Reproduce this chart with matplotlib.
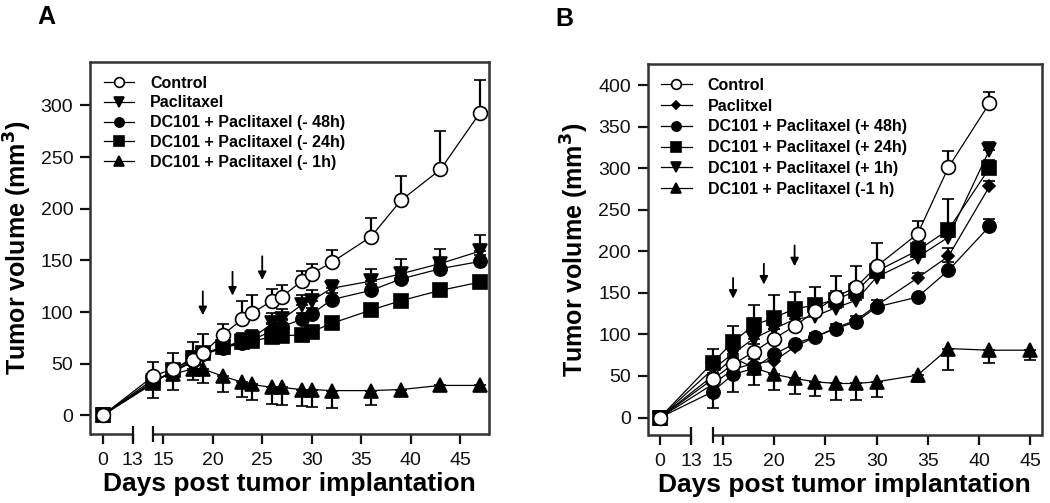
import matplotlib
matplotlib.use("Agg")
import matplotlib.pyplot as plt
import numpy as np

plt.rcParams['font.family'] = ['Liberation Sans', 'DejaVu Sans']

# ---- data: panel A ----
days_a = [0, 14, 16, 18, 19, 21, 23, 24, 26, 27, 29, 30, 32, 36, 39, 43, 47]
ctrl_a = [0, 38, 45, 54, 60, 78, 93, 99, 111, 115, 130, 137, 148, 173, 208, 238, 293]
ctrl_a_up = [0, 14, 15, 17, 19, 10, 18, 18, 11, 11, 10, 10, 12, 18, 24, 37, 32]
pacl_a = [0, 33, 42, 52, 58, 66, 72, 75, 89, 93, 107, 111, 123, 130, 137, 147, 159]
pacl_a_up = [0, 8, 8, 8, 8, 6, 8, 8, 10, 10, 10, 10, 8, 12, 14, 14, 16]
dc48_a = [0, 32, 43, 53, 59, 65, 70, 73, 82, 86, 93, 98, 112, 121, 132, 142, 149]
dc48_a_up = [0, 5, 5, 5, 5, 5, 5, 5, 6, 6, 6, 6, 6, 6, 6, 6, 6]
dc24_a = [0, 31, 44, 56, 60, 66, 71, 72, 76, 77, 78, 81, 89, 102, 111, 121, 129]
dc24_a_up = [0, 5, 5, 6, 6, 5, 5, 6, 5, 5, 4, 4, 4, 4, 4, 4, 4]
dc1_a = [0, 35, 40, 45, 45, 38, 32, 30, 27, 27, 25, 25, 24, 24, 25, 29, 29]
dc1_a_low = [0, 18, 15, 11, 14, 15, 14, 15, 16, 17, 16, 17, 17, 14, 6, 5, 5]
labels_a = ["Control", "Paclitaxel", "DC101 + Paclitaxel (- 48h)",
            "DC101 + Paclitaxel (- 24h)", "DC101 + Paclitaxel (- 1h)"]
arrows_a = [19, 22, 25]
arrow_tip_a = [97, 116, 131]

# ---- data: panel B ----
days_b = [0, 14, 16, 18, 20, 22, 24, 26, 28, 30, 34, 37, 41]
days_b_m1 = [0, 14, 16, 18, 20, 22, 24, 26, 28, 30, 34, 37, 41, 45]
ctrl_b = [0, 46, 64, 79, 95, 110, 128, 145, 157, 182, 221, 301, 378]
ctrl_b_up = [0, 8, 10, 10, 12, 14, 12, 25, 25, 28, 16, 20, 14]
pacl_b = [0, 40, 58, 65, 68, 85, 97, 108, 117, 135, 168, 194, 278]
pacl_b_up = [0, 5, 5, 5, 5, 5, 5, 5, 5, 6, 6, 10, 6]
dc48_b = [0, 31, 52, 59, 76, 89, 97, 107, 115, 133, 145, 177, 230]
dc48_b_low = [0, 20, 21, 0, 0, 0, 0, 0, 0, 0, 0, 0, 0]
dc48_b_up = [0, 0, 0, 0, 0, 0, 0, 0, 0, 0, 0, 10, 9]
dc24_b = [0, 66, 91, 111, 120, 131, 135, 142, 152, 176, 201, 226, 300]
dc24_b_up = [0, 17, 19, 24, 27, 20, 22, 10, 10, 10, 10, 37, 10]
dc1p_b = [0, 58, 77, 95, 107, 118, 122, 132, 141, 169, 193, 217, 322]
dc1p_b_up = [0, 6, 6, 6, 6, 6, 6, 6, 6, 8, 8, 10, 9]
dcm1_b = [0, 50, 72, 60, 52, 47, 43, 41, 41, 43, 51, 83, 81, 81]
dcm1_b_low = [0, 10, 10, 21, 19, 19, 17, 20, 20, 18, 8, 26, 15, 12]
labels_b = ["Control", "Paclitxel", "DC101 + Paclitaxel (+ 48h)",
            "DC101 + Paclitaxel (+ 24h)", "DC101 + Paclitaxel (+ 1h)",
            "DC101 + Paclitaxel (-1 h)"]
arrows_b = [16, 19, 22]
arrow_tip_b = [143, 160, 182]

xticks = [0, 13, 15, 20, 25, 30, 35, 40, 45]

# broken x axis: 0-13 compressed, gap between 13 and 14
S1 = 0.235
GAP = 2.07


def fwd(x):
    x = np.asarray(x, dtype=float)
    return np.where(x <= 13, x * S1,
                    np.where(x <= 14, 13 * S1 + (x - 13) * GAP, x - 14 + 13 * S1 + GAP))


def inv(p):
    p = np.asarray(p, dtype=float)
    p13 = 13 * S1
    p14 = p13 + GAP
    return np.where(p <= p13, p / S1,
                    np.where(p <= p14, 13 + (p - p13) / GAP, p - p14 + 14))


K = '#111111'
LW = 1.8


def series(ax, x, y, low, up, marker, ms, mfc, z):
    c = ax.errorbar(x, y, yerr=[low, up], marker=marker, ms=ms, mfc=mfc, mec='black',
                    mew=1.2, color='black', lw=0.9, ecolor='black', elinewidth=1.6,
                    capsize=4, capthick=1.6, zorder=z)
    return c[0]


def style(ax, xlim, ylim, yticks, ylab_pad):
    ax.set_xscale('function', functions=(fwd, inv))
    ax.set_xlim(*xlim)
    ax.set_ylim(*ylim)
    ax.set_xticks(xticks)
    ax.set_xticklabels([str(t) for t in xticks])
    ax.set_yticks(yticks)
    ax.minorticks_off()
    ax.tick_params(direction='out', length=7, width=1.6, labelsize=14, colors=K, pad=5)
    ax.tick_params(axis='x', pad=6)
    for s in ['left', 'top', 'right']:
        ax.spines[s].set_linewidth(LW)
        ax.spines[s].set_color('#333333')
    ax.spines['bottom'].set_visible(False)
    tr = ax.get_xaxis_transform()
    ax.plot([xlim[0], 13], [0, 0], transform=tr, clip_on=False, color='#333333', lw=LW,
            solid_capstyle='butt')
    ax.plot([14, xlim[1]], [0, 0], transform=tr, clip_on=False, color='#333333', lw=LW,
            solid_capstyle='butt')
    ax.plot([13, 14], [0, 0], transform=tr, clip_on=False, ls='none', marker='|',
            ms=12, mew=1.6, color=K)
    ax.set_xlabel('Days post tumor implantation', fontsize=19, fontweight='bold', labelpad=2)
    ax.set_ylabel('Tumor volume (mm$^\\mathbf{3}$)', fontsize=18, fontweight='bold',
                  labelpad=ylab_pad)


fig = plt.figure(figsize=(10.5, 5.03), dpi=100)
axA = fig.add_axes([0.0857, 0.1372, 0.38, 0.7395])
axB = fig.add_axes([0.6169, 0.1352, 0.3752, 0.737])

# panel A
hA = []
hA.append(series(axA, days_a, ctrl_a, [0] * len(days_a), ctrl_a_up, 'o', 10, 'white', 10))
hA.append(series(axA, days_a, pacl_a, [0] * len(days_a), pacl_a_up, 'v', 9.5, 'black', 6))
hA.append(series(axA, days_a, dc48_a, [0] * len(days_a), dc48_a_up, 'o', 9.5, 'black', 7))
hA.append(series(axA, days_a, dc24_a, [0] * len(days_a), dc24_a_up, 's', 9.5, 'black', 5))
hA.append(series(axA, days_a, dc1_a, dc1_a_low, [0] * len(days_a), '^', 9.5, 'black', 4))
style(axA, (-5.4, 47.9), (-18, 342), range(0, 301, 50), 5)
for d, t in zip(arrows_a, arrow_tip_a):
    axA.annotate('', xy=(d, t), xytext=(d, t + 23),
                 arrowprops=dict(arrowstyle='-|>', color='black', lw=1.3,
                                 mutation_scale=12, shrinkA=0, shrinkB=0))
axA.legend(hA, labels_a, loc='upper left', frameon=False,
           prop={'size': 11.5, 'weight': 'bold'}, handlelength=1.9, handletextpad=1.0,
           labelspacing=0.3, borderaxespad=0.45, markerscale=0.7)

# panel B
hB = []
hB.append(series(axB, days_b, ctrl_b, [0] * len(days_b), ctrl_b_up, 'o', 10, 'white', 10))
hB.append(series(axB, days_b, pacl_b, [0] * len(days_b), pacl_b_up, 'D', 6.5, 'black', 6))
hB.append(series(axB, days_b, dc48_b, dc48_b_low, dc48_b_up, 'o', 9.5, 'black', 7))
hB.append(series(axB, days_b, dc24_b, [0] * len(days_b), dc24_b_up, 's', 9.5, 'black', 8))
hB.append(series(axB, days_b, dc1p_b, [0] * len(days_b), dc1p_b_up, 'v', 9.5, 'black', 5))
hB.append(series(axB, days_b_m1, dcm1_b, dcm1_b_low, [0] * len(days_b_m1), '^', 9.5, 'black', 4))
style(axB, (-5.1, 46.1), (-21, 425), range(0, 401, 50), 5)
for d, t in zip(arrows_b, arrow_tip_b):
    axB.annotate('', xy=(d, t), xytext=(d, t + 25),
                 arrowprops=dict(arrowstyle='-|>', color='black', lw=1.3,
                                 mutation_scale=12, shrinkA=0, shrinkB=0))
axB.legend(hB, labels_b, loc='upper left', frameon=False,
           prop={'size': 11.5, 'weight': 'bold'}, handlelength=1.9, handletextpad=1.0,
           labelspacing=0.36, borderaxespad=0.45, markerscale=0.7)

fig.text(37 / 1050, 1 - 5 / 503, 'A', fontsize=18, fontweight='bold', ha='left', va='top')
fig.text(555 / 1050, 1 - 7 / 503, 'B', fontsize=18, fontweight='bold', ha='left', va='top')

fig.savefig('out.png', dpi=100)
